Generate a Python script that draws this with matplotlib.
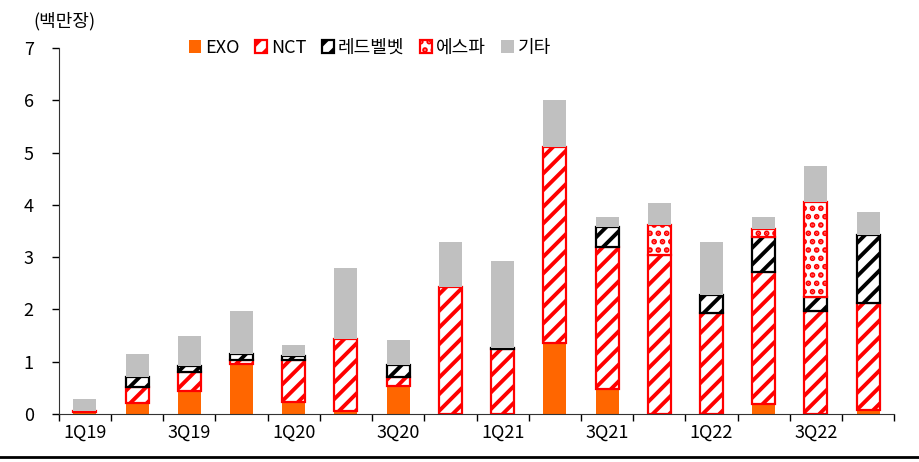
import matplotlib.pyplot as plt
from matplotlib.lines import Line2D
import numpy as np

plt.rcParams['font.family'] = ['Noto Sans CJK KR', 'DejaVu Sans']
plt.rcParams['hatch.linewidth'] = 2.8

quarters = ['1Q19', '2Q19', '3Q19', '4Q19', '1Q20', '2Q20', '3Q20', '4Q20',
            '1Q21', '2Q21', '3Q21', '4Q21', '1Q22', '2Q22', '3Q22', '4Q22']
exo = [0.03, 0.20, 0.43, 0.95, 0.22, 0.06, 0.54, 0.00,
       0.00, 1.36, 0.48, 0.00, 0.00, 0.19, 0.00, 0.08]
nct = [0.02, 0.32, 0.38, 0.08, 0.81, 1.37, 0.17, 2.43,
       1.24, 3.75, 2.71, 3.05, 1.93, 2.52, 1.97, 2.04]
redvelvet = [0.00, 0.19, 0.11, 0.11, 0.07, 0.00, 0.23, 0.00,
             0.02, 0.00, 0.38, 0.00, 0.35, 0.67, 0.27, 1.30]
aespa = [0.00, 0.00, 0.00, 0.00, 0.00, 0.00, 0.00, 0.00,
         0.00, 0.00, 0.00, 0.56, 0.00, 0.15, 1.81, 0.00]
other = [0.24, 0.43, 0.57, 0.82, 0.22, 1.36, 0.47, 0.85,
         1.67, 0.89, 0.19, 0.43, 1.01, 0.24, 0.69, 0.44]

fig = plt.figure(figsize=(9.19, 4.62), dpi=100)
ax = fig.add_axes([0.064, 0.104, 0.909, 0.792])

x = np.arange(len(quarters))
w = 0.44
bottom = np.zeros(len(quarters))

def stack(vals, **kw):
    global bottom
    vals = np.array(vals)
    mask = vals > 0
    bars = ax.bar(x[mask], vals[mask], w, bottom=bottom[mask], **kw)
    bottom = bottom + vals
    return bars

b1 = stack(exo, color='#FF6600', label='EXO')
b2 = stack(nct, facecolor='white', edgecolor='#FF0000', hatch='//', linewidth=1.6, label='NCT')
b3 = stack(redvelvet, facecolor='white', edgecolor='black', hatch='//', linewidth=1.6, label='레드벨벳')
b4 = stack(aespa, facecolor='white', edgecolor='#FF0000', hatch='..', linewidth=1.6, label='에스파')
b5 = stack(other, color='#C0C0C0', label='기타')

ax.set_xlim(-0.5, len(quarters) - 0.5)
ax.set_ylim(0, 7)
ax.set_yticks(range(0, 8))
ax.tick_params(axis='y', direction='out', length=5, pad=13, labelsize=13, width=1)

ax.set_xticks(np.arange(-0.5, len(quarters), 1))
ax.set_xticklabels([])
ax.tick_params(axis='x', which='major', direction='out', length=5, width=1)
ax.set_xticks(x[::2], minor=True)
ax.set_xticklabels(quarters[::2], minor=True)
ax.tick_params(axis='x', which='minor', length=0, pad=7, labelsize=13)

for s in ['top', 'right']:
    ax.spines[s].set_visible(False)
for s in ['left', 'bottom']:
    ax.spines[s].set_color('#333333')

fig.text(0.036, 0.955, '(백만장)', fontsize=13, va='center', ha='left')

ax.legend(handles=[b1, b2, b3, b4, b5], loc='center', bbox_to_anchor=(0.372, 1.0),
          ncol=5, frameon=False, fontsize=13, handlelength=0.7, handleheight=0.7,
          handletextpad=0.2, columnspacing=0.85)

fig.add_artist(Line2D([0, 1], [0.01, 0.01], color='black', linewidth=2))

fig.savefig('out.png', dpi=100)
